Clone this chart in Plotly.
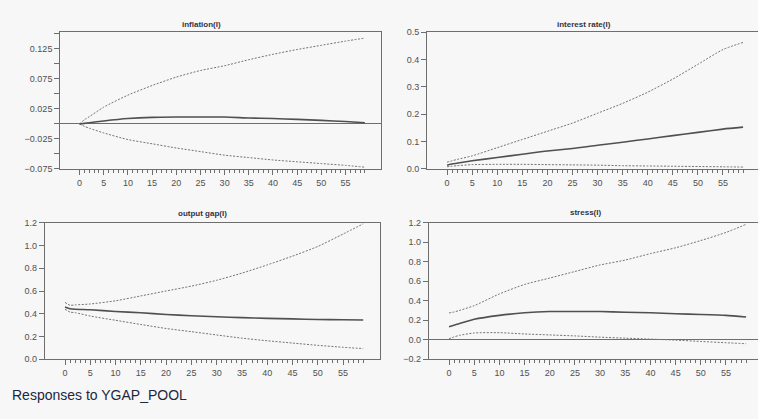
import plotly.graph_objects as go

W, H = 758, 419

periods = [0, 1, 2, 5, 10, 15, 20, 25, 30, 35, 40, 45, 50, 55, 59]
x_tick_labels = [0, 5, 10, 15, 20, 25, 30, 35, 40, 45, 50, 55]
x_minor_steps = list(range(0, 60))

infl_resp = [0, 0.001, 0.002, 0.005, 0.009, 0.011, 0.0115, 0.0115, 0.0115, 0.010, 0.009, 0.0077, 0.006, 0.004, 0.002]
infl_up = [0, 0.007, 0.012, 0.028, 0.048, 0.064, 0.078, 0.089, 0.097, 0.107, 0.116, 0.124, 0.131, 0.138, 0.143]
infl_lo = [0, -0.004, -0.007, -0.015, -0.026, -0.033, -0.040, -0.046, -0.052, -0.056, -0.060, -0.063, -0.066, -0.069, -0.072]

rate_resp = [0.014, 0.018, 0.021, 0.030, 0.042, 0.054, 0.066, 0.075, 0.087, 0.098, 0.110, 0.122, 0.134, 0.146, 0.153]
rate_up = [0.025, 0.030, 0.035, 0.048, 0.078, 0.108, 0.138, 0.168, 0.204, 0.240, 0.281, 0.329, 0.383, 0.437, 0.463]
rate_lo = [0.008, 0.010, 0.012, 0.016, 0.017, 0.017, 0.016, 0.015, 0.014, 0.012, 0.011, 0.010, 0.009, 0.008, 0.007]

gap_resp = [0.46, 0.445, 0.44, 0.435, 0.42, 0.409, 0.394, 0.383, 0.374, 0.366, 0.360, 0.355, 0.350, 0.347, 0.345]
gap_up = [0.50, 0.475, 0.478, 0.486, 0.514, 0.557, 0.60, 0.643, 0.694, 0.757, 0.829, 0.906, 0.991, 1.10, 1.19]
gap_lo = [0.44, 0.415, 0.41, 0.38, 0.343, 0.306, 0.271, 0.243, 0.214, 0.186, 0.163, 0.143, 0.123, 0.106, 0.094]

str_resp = [0.133, 0.15, 0.165, 0.21, 0.25, 0.277, 0.29, 0.29, 0.29, 0.283, 0.277, 0.267, 0.26, 0.25, 0.233]
str_up = [0.275, 0.285, 0.30, 0.35, 0.47, 0.567, 0.633, 0.70, 0.767, 0.817, 0.883, 0.943, 1.017, 1.10, 1.183]
str_lo = [0.01, 0.03, 0.045, 0.07, 0.073, 0.06, 0.05, 0.04, 0.027, 0.017, 0.007, -0.003, -0.017, -0.03, -0.04]

titles = ["inflation(I)", "interest rate(I)", "output gap(I)", "stress(I)"]
footer = "Responses to YGAP_POOL"

panels = [
    (infl_resp, infl_up, infl_lo),
    (rate_resp, rate_up, rate_lo),
    (gap_resp, gap_up, gap_lo),
    (str_resp, str_up, str_lo),
]

# pixel boxes: (left, right, top, bottom), x-range, y-range, y ticks
boxes = [
    (60.2, 381.3, 28, 168, [-4, 62.4], [-0.075, 0.1526], dict(tick0=-0.075, dtick=0.05, tickformat=".3f"), 0.025, True),
    (427.0, 758, 28, 168, [-4, 61.98], [0, 0.5], dict(tick0=0, dtick=0.1, tickformat=".1f"), None, False),
    (44.8, 380.4, 223, 363, [-4, 62.4], [0, 1.2], dict(tick0=0, dtick=0.2, tickformat=".1f"), None, True),
    (428.9, 758, 223, 363, [-4, 61.36], [-0.2, 1.2], dict(tick0=0, dtick=0.2, tickformat=".1f"), None, False),
]
title_pos = [(201, 20), (584, 20), (202, 214), (585, 213)]
zero_line = [True, False, False, True]

AX = "#6e6e6e"
SOLID = "#505050"
DOT = "#747474"
TICKFONT = dict(family="Liberation Sans, Arial, sans-serif", size=9, color="#505050")

fig = go.Figure()
layout = dict(
    width=W, height=H, margin=dict(l=0, r=0, t=0, b=0),
    paper_bgcolor="#f7f7f7", plot_bgcolor="#f7f7f7", showlegend=False,
)
annotations = []

for i, ((resp, up, lo), box) in enumerate(zip(panels, boxes)):
    left, right, top, bottom, xr, yr, ytick, yminor, mirror_y = box
    n = "" if i == 0 else str(i + 1)
    xa, ya = "x" + n, "y" + n
    layout["xaxis" + n] = dict(
        domain=[left / W, right / W], range=xr, anchor=ya,
        showline=True, linecolor=AX, linewidth=1, mirror=True,
        showgrid=False, zeroline=False,
        ticks="outside", tickmode="array", tickvals=x_tick_labels, ticklen=5, tickcolor=AX,
        minor=dict(ticks="outside", tickmode="array", tickvals=x_minor_steps, ticklen=3, tickcolor=AX),
        tickfont=TICKFONT,
    )
    ydict = dict(
        domain=[1 - bottom / H, 1 - top / H], range=yr, anchor=xa,
        showline=True, linecolor=AX, linewidth=1, mirror=mirror_y,
        showgrid=False, zeroline=zero_line[i], zerolinecolor=AX, zerolinewidth=1,
        ticks="outside", ticklen=5, tickcolor=AX, tickfont=TICKFONT,
        **ytick,
    )
    if yminor:
        ydict["minor"] = dict(ticks="outside", tick0=yr[0], dtick=yminor, ticklen=5, tickcolor=AX)
    layout["yaxis" + n] = ydict

    for ys, color, dash, width in [(up, DOT, "2px,1.5px", 1.0), (lo, DOT, "2px,1.5px", 1.0), (resp, SOLID, "solid", 1.6)]:
        fig.add_trace(go.Scatter(
            x=periods, y=ys, mode="lines", xaxis=xa, yaxis=ya,
            line=dict(color=color, dash=dash, width=width, shape="spline", smoothing=0.6),
            hoverinfo="skip",
        ))
    tx, ty = title_pos[i]
    annotations.append(dict(
        text="<b>" + titles[i] + "</b>", x=tx / W, y=1 - ty / H, xref="paper", yref="paper",
        showarrow=False, xanchor="center", yanchor="middle",
        font=dict(family="Liberation Sans, Arial, sans-serif", size=8, color="#333344"),
    ))

annotations.append(dict(
    text=footer, x=10 / W, y=1 - 400 / H, xref="paper", yref="paper",
    showarrow=False, xanchor="left", yanchor="middle",
    font=dict(family="Liberation Sans, Arial, sans-serif", size=14, color="#1e2640"),
))
layout["annotations"] = annotations
fig.update_layout(**layout)
fig.write_html("out.html")
